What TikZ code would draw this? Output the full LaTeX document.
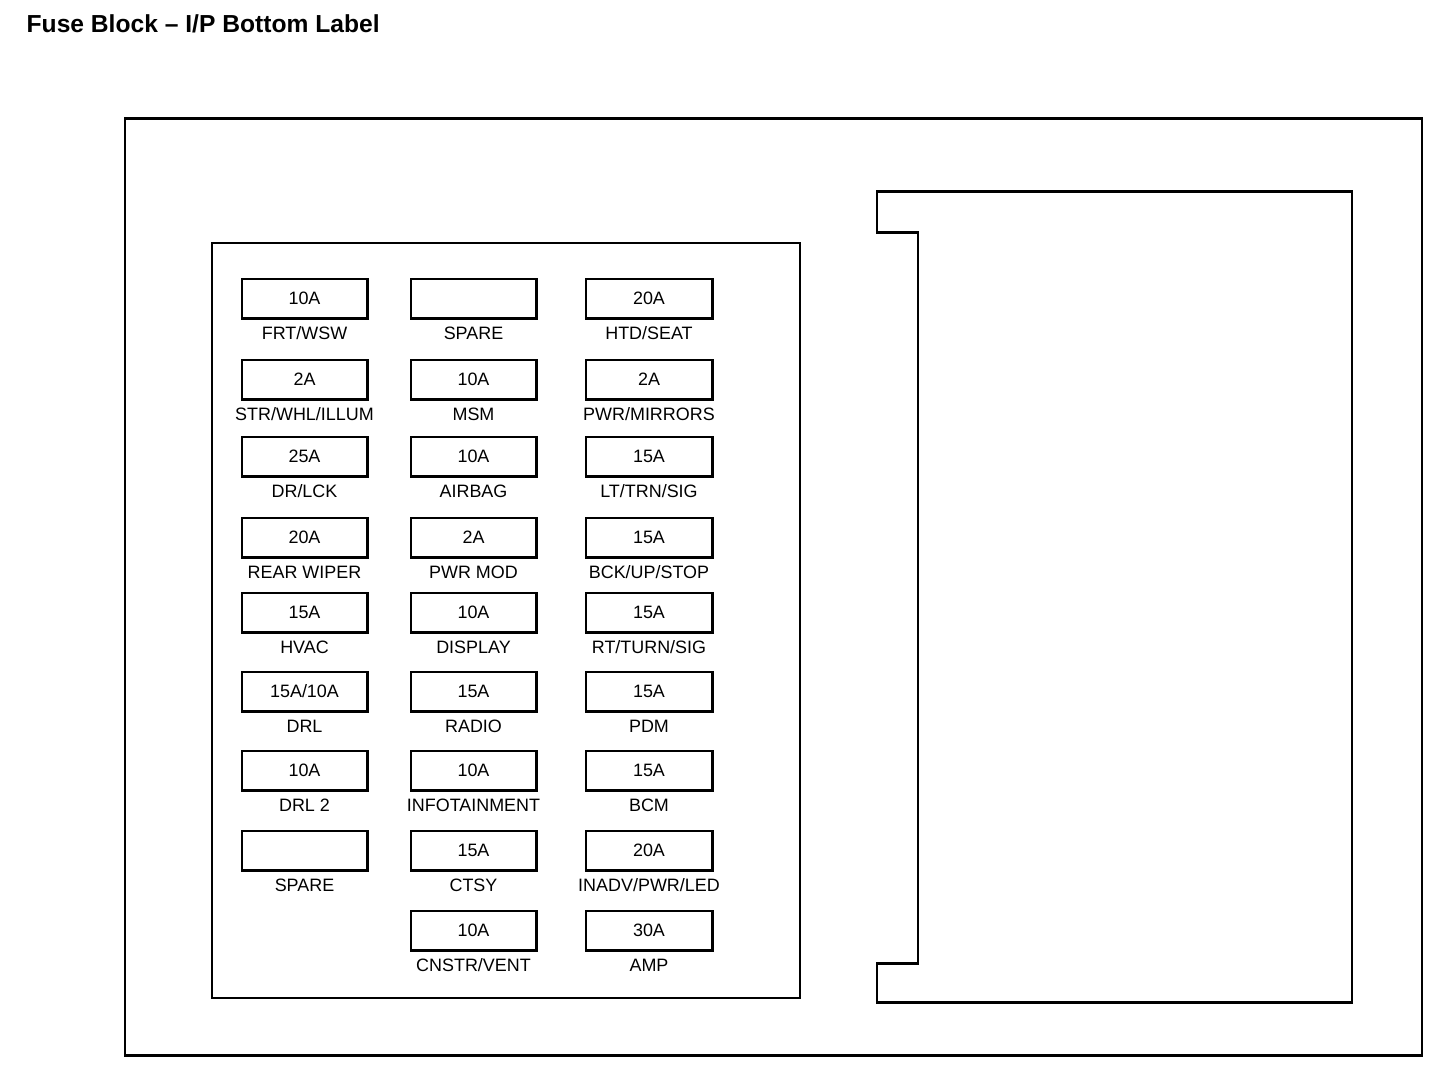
\documentclass[tikz,border=0pt]{standalone}
\usepackage{fontspec}
\setmainfont{Liberation Sans}
\tikzset{
	fusebox/.style={draw, line width=0.55pt, minimum width=1.25cm, minimum height=0.39cm, inner sep=0pt, font=\fontsize{5.1}{6}\selectfont},
	fuselabel/.style={inner sep=0pt, font=\fontsize{5.1}{6}\selectfont},
	frameline/.style={line width=0.85pt},
}
\def\fuse(#1,#2)#3#4#5{%
	\node[fusebox] (#3) at (#1,#2) {#4};
	\draw[frameline] (#3.north east) -- (#3.south east) -- (#3.south west);
	\node[fuselabel] (#3lbl) at (#1,#2+35) {#5};
}

\begin{document}
\begin{tikzpicture}[x=0.01cm, y=-0.01cm]
			%%%%% START %%%%%
			\useasboundingbox (0,0) rectangle (1456,1086);
			
			\node[anchor=west, inner sep=0pt, font=\bfseries\fontsize{7}{8}\selectfont] (title) at (26,24) {Fuse Block -- I/P Bottom Label};
			
			\draw[frameline] (125,119) rectangle (1422,1056);
			\draw[line width=0.65pt] (212,243) rectangle (800,998);
			\draw[frameline] (877,192) -- (1352,192) -- (1352,1003) -- (877,1003) -- (877,964) -- (918,964) -- (918,233) -- (877,233) -- cycle;
			
			% left column
			\fuse(304.5,298.5){fa1}{10A}{FRT/WSW}
			\fuse(304.5,379.5){fa2}{2A}{STR/WHL/ILLUM}
			\fuse(304.5,456.5){fa3}{25A}{DR/LCK}
			\fuse(304.5,537.5){fa4}{20A}{REAR WIPER}
			\fuse(304.5,612.5){fa5}{15A}{HVAC}
			\fuse(304.5,691.5){fa6}{15A/10A}{DRL}
			\fuse(304.5,770.5){fa7}{10A}{DRL 2}
			\fuse(304.5,850.5){fa8}{}{SPARE}
			
			% middle column
			\fuse(473.5,298.5){fb1}{}{SPARE}
			\fuse(473.5,379.5){fb2}{10A}{MSM}
			\fuse(473.5,456.5){fb3}{10A}{AIRBAG}
			\fuse(473.5,537.5){fb4}{2A}{PWR MOD}
			\fuse(473.5,612.5){fb5}{10A}{DISPLAY}
			\fuse(473.5,691.5){fb6}{15A}{RADIO}
			\fuse(473.5,770.5){fb7}{10A}{INFOTAINMENT}
			\fuse(473.5,850.5){fb8}{15A}{CTSY}
			\fuse(473.5,930.5){fb9}{10A}{CNSTR/VENT}
			
			% right column
			\fuse(649,298.5){fc1}{20A}{HTD/SEAT}
			\fuse(649,379.5){fc2}{2A}{PWR/MIRRORS}
			\fuse(649,456.5){fc3}{15A}{LT/TRN/SIG}
			\fuse(649,537.5){fc4}{15A}{BCK/UP/STOP}
			\fuse(649,612.5){fc5}{15A}{RT/TURN/SIG}
			\fuse(649,691.5){fc6}{15A}{PDM}
			\fuse(649,770.5){fc7}{15A}{BCM}
			\fuse(649,850.5){fc8}{20A}{INADV/PWR/LED}
			\fuse(649,930.5){fc9}{30A}{AMP}
			
			%%%%% END %%%%%
\end{tikzpicture}
\end{document}
